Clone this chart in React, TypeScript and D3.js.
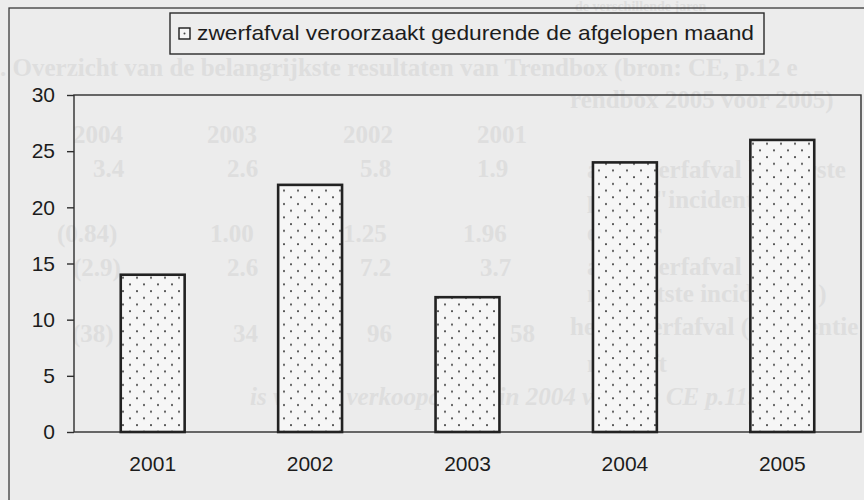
import React, { useEffect, useRef } from 'react';
import * as d3 from 'd3';

// chart data
const years = ['2001', '2002', '2003', '2004', '2005'];
const litterValues = [14, 22, 12, 24, 26];
const yTicks = [0, 5, 10, 15, 20, 25, 30];
const legendLabel = 'zwerfafval veroorzaakt gedurende de afgelopen maand';

// faint text showing through from the other side of the scanned page
const showThroughLines = [
  { text: 'de verschillende jaren', x: 575, y: 11, size: 14 },
  { text: '. Overzicht van de belangrijkste resultaten van Trendbox (bron: CE, p.12 e', x: 0, y: 76, size: 25 },
  { text: 'rendbox 2005 voor 2005)', x: 570, y: 108, size: 25 },
  { text: '2004', x: 73, y: 143, size: 25 },
  { text: '2003', x: 207, y: 143, size: 25 },
  { text: '2002', x: 343, y: 143, size: 25 },
  { text: '2001', x: 477, y: 143, size: 25 },
  { text: '3.4', x: 93, y: 177, size: 25 },
  { text: '2.6', x: 227, y: 177, size: 25 },
  { text: '5.8', x: 360, y: 177, size: 25 },
  { text: '1.9', x: 477, y: 177, size: 25 },
  { text: 'age zwerfafval bij eerste', x: 587, y: 178, size: 25 },
  { text: 'potie ("incidentie")', x: 587, y: 208, size: 25 },
  { text: '(0.84)', x: 57, y: 242, size: 25 },
  { text: '1.00', x: 210, y: 242, size: 25 },
  { text: '1.25', x: 343, y: 242, size: 25 },
  { text: '1.96', x: 463, y: 242, size: 25 },
  { text: 'efactor', x: 587, y: 241, size: 25 },
  { text: '(2.9)', x: 73, y: 276, size: 25 },
  { text: '2.6', x: 227, y: 276, size: 25 },
  { text: '7.2', x: 360, y: 276, size: 25 },
  { text: '3.7', x: 480, y: 276, size: 25 },
  { text: 'age zwerfafval', x: 587, y: 275, size: 25 },
  { text: 'ngetoetste incidentie")', x: 587, y: 302, size: 25 },
  { text: '(38)', x: 72, y: 342, size: 25 },
  { text: '34', x: 233, y: 342, size: 25 },
  { text: '96', x: 367, y: 342, size: 25 },
  { text: '58', x: 510, y: 342, size: 25 },
  { text: 'heid zwerfafval (frequentie', x: 570, y: 335, size: 25 },
  { text: 'm blijft', x: 587, y: 372, size: 25 },
  { text: 'is van de verkoopcijfers in 2004 volgens CE p.11.', x: 250, y: 405, size: 25 },
];

const W = 864;
const H = 500;
const plot = { left: 74, right: 861, top: 95, bottom: 432 };

const App: React.FC = () => {
  const svgRef = useRef<SVGSVGElement | null>(null);

  useEffect(() => {
    if (!svgRef.current) return;
    const svg = d3.select(svgRef.current);
    svg.selectAll('*').remove();

    const ink = '#1c1c1c';
    const sans = '"Liberation Sans", Arial, Helvetica, sans-serif';

    // dotted fill for the bars
    const defs = svg.append('defs');
    const pat = defs
      .append('pattern')
      .attr('id', 'dots')
      .attr('patternUnits', 'userSpaceOnUse')
      .attr('width', 14)
      .attr('height', 13.4);
    pat.append('rect').attr('width', 14).attr('height', 13.4).attr('fill', '#f6f6f6');
    pat.append('circle').attr('cx', 4).attr('cy', 3).attr('r', 1).attr('fill', '#444');
    pat.append('circle').attr('cx', 11).attr('cy', 9.7).attr('r', 1).attr('fill', '#444');

    // scanned paper
    svg.append('rect').attr('width', W).attr('height', H).attr('fill', '#ececec');

    svg
      .append('g')
      .selectAll('text')
      .data(showThroughLines)
      .enter()
      .append('text')
      .attr('x', (d) => d.x)
      .attr('y', (d) => d.y)
      .attr('font-family', '"Liberation Serif", "Times New Roman", serif')
      .attr('font-size', (d) => d.size)
      .attr('font-weight', 'bold')
      .attr('font-style', (d) => (d.y === 405 ? 'italic' : 'normal'))
      .attr('fill', '#dedede')
      .text((d) => d.text);

    // outer frame
    svg
      .append('rect')
      .attr('x', 9)
      .attr('y', 8)
      .attr('width', 880)
      .attr('height', 520)
      .attr('fill', 'none')
      .attr('stroke', '#3a3a3a')
      .attr('stroke-width', 1.3);

    // legend
    svg
      .append('rect')
      .attr('x', 170)
      .attr('y', 13)
      .attr('width', 594)
      .attr('height', 41)
      .attr('fill', '#ededed')
      .attr('stroke', '#2a2a2a')
      .attr('stroke-width', 1.4);
    svg
      .append('rect')
      .attr('x', 179)
      .attr('y', 28)
      .attr('width', 11)
      .attr('height', 11)
      .attr('fill', '#f6f6f6')
      .attr('stroke', ink)
      .attr('stroke-width', 1.4);
    svg.append('circle').attr('cx', 184.5).attr('cy', 33.5).attr('r', 1).attr('fill', '#444');
    svg
      .append('text')
      .attr('x', 197)
      .attr('y', 40)
      .attr('font-family', sans)
      .attr('font-size', 21)
      .attr('fill', ink)
      .attr('textLength', 557)
      .attr('lengthAdjust', 'spacingAndGlyphs')
      .text(legendLabel);

    const x = d3
      .scaleBand<string>()
      .domain(years)
      .range([plot.left, plot.right])
      .paddingInner(0.594)
      .paddingOuter(0.297);
    const y = d3.scaleLinear().domain([0, 30]).range([plot.bottom, plot.top]);

    // plot area
    svg
      .append('rect')
      .attr('x', plot.left)
      .attr('y', plot.top)
      .attr('width', plot.right - plot.left)
      .attr('height', plot.bottom - plot.top)
      .attr('fill', 'none')
      .attr('stroke', '#2e2e2e')
      .attr('stroke-width', 1.4);

    // bars
    svg
      .append('g')
      .selectAll('rect')
      .data(litterValues)
      .enter()
      .append('rect')
      .attr('x', (_, i) => x(years[i]) as number)
      .attr('y', (d) => y(d))
      .attr('width', x.bandwidth())
      .attr('height', (d) => y(0) - y(d))
      .attr('fill', 'url(#dots)')
      .attr('stroke', '#222')
      .attr('stroke-width', 2.6);

    // y axis
    const yAxis = svg
      .append('g')
      .attr('transform', `translate(${plot.left},0)`)
      .call(d3.axisLeft(y).tickValues(yTicks).tickSize(7).tickPadding(12));
    yAxis.select('.domain').remove();
    yAxis.selectAll('line').attr('stroke', '#2e2e2e').attr('stroke-width', 1.4);
    yAxis
      .selectAll('text')
      .attr('font-family', sans)
      .attr('font-size', 21)
      .attr('fill', ink);

    // x axis labels
    const xAxis = svg
      .append('g')
      .attr('transform', `translate(0,${plot.bottom})`)
      .call(d3.axisBottom(x).tickSize(0).tickPadding(24));
    xAxis.select('.domain').remove();
    xAxis
      .selectAll('text')
      .attr('font-family', sans)
      .attr('font-size', 21)
      .attr('fill', ink);
  }, []);

  return (
    <svg
      ref={svgRef}
      width={W}
      height={H}
      style={{ position: 'absolute', left: 0, top: 0, display: 'block' }}
    />
  );
};

export default App;
